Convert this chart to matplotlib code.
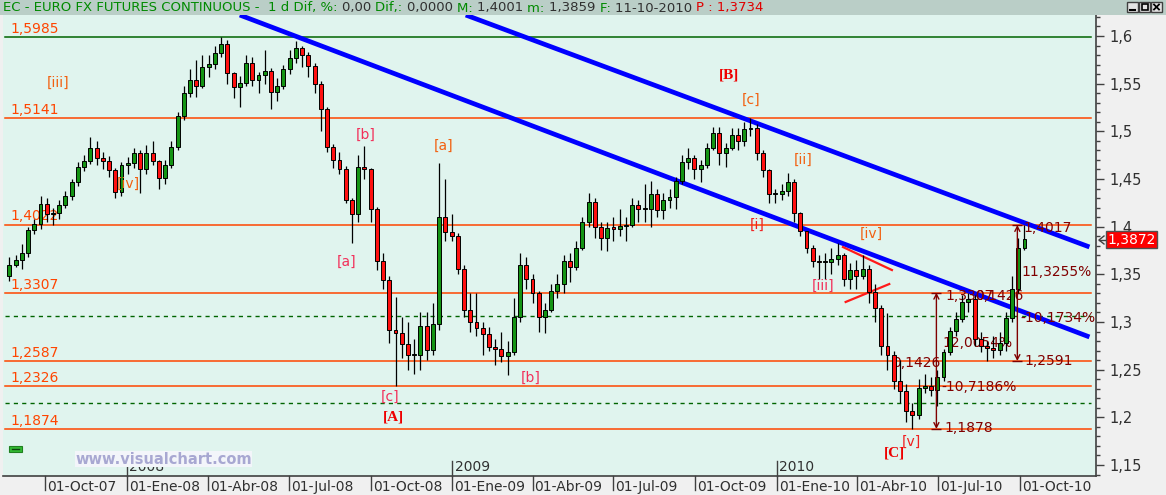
import numpy as np
import pandas as pd
import matplotlib
matplotlib.use('Agg')
import matplotlib.pyplot as plt
import matplotlib.dates as mdates
from matplotlib import font_manager
from matplotlib.patches import Rectangle
from matplotlib.ticker import MultipleLocator, FuncFormatter
from matplotlib.transforms import blended_transform_factory

names = {f.name for f in font_manager.fontManager.ttflist}
NARROW = 'Liberation Sans Narrow' if 'Liberation Sans Narrow' in names else 'DejaVu Sans'

# ---------------- data (weekly candles) ----------------
week_start = '2007-08-22'
opens = [
    1.348, 1.360, 1.365, 1.372, 1.397, 1.403, 1.424, 1.413, 1.414, 1.423,
    1.432, 1.447, 1.463, 1.469, 1.483, 1.472, 1.469, 1.459, 1.436, 1.465,
    1.467, 1.477, 1.460, 1.477, 1.469, 1.451, 1.465, 1.484, 1.516, 1.540,
    1.554, 1.548, 1.568, 1.571, 1.582, 1.592, 1.561, 1.546, 1.551, 1.572,
    1.554, 1.559, 1.563, 1.541, 1.548, 1.565, 1.577, 1.587, 1.580, 1.569,
    1.550, 1.523, 1.484, 1.470, 1.461, 1.428, 1.413, 1.463, 1.461, 1.418,
    1.364, 1.344, 1.292, 1.288, 1.277, 1.265, 1.265, 1.296, 1.271, 1.298,
    1.410, 1.394, 1.390, 1.356, 1.313, 1.300, 1.294, 1.287, 1.274, 1.272,
    1.264, 1.268, 1.305, 1.360, 1.345, 1.330, 1.305, 1.313, 1.332, 1.340,
    1.364, 1.358, 1.378, 1.405, 1.426, 1.400, 1.388, 1.399, 1.398, 1.401,
    1.402, 1.423, 1.418, 1.418, 1.434, 1.417, 1.428, 1.431, 1.448, 1.468,
    1.472, 1.461, 1.465, 1.483, 1.498, 1.477, 1.483, 1.496, 1.490, 1.502,
    1.503, 1.477, 1.459, 1.434, 1.434, 1.437, 1.447, 1.414, 1.395, 1.378,
    1.364, 1.363, 1.363, 1.366, 1.370, 1.345, 1.355, 1.348, 1.356, 1.331,
    1.315, 1.275, 1.265, 1.238, 1.228, 1.207, 1.202, 1.231, 1.233, 1.229,
    1.242, 1.268, 1.291, 1.303, 1.321, 1.324, 1.282, 1.275, 1.273, 1.271,
    1.278, 1.304, 1.335, 1.378]
highs = [
    1.368, 1.370, 1.382, 1.400, 1.408, 1.432, 1.430, 1.420, 1.428, 1.437,
    1.450, 1.468, 1.475, 1.494, 1.490, 1.478, 1.474, 1.462, 1.468, 1.473,
    1.483, 1.480, 1.486, 1.490, 1.470, 1.470, 1.490, 1.520, 1.548, 1.565,
    1.575, 1.580, 1.580, 1.590, 1.5985, 1.596, 1.562, 1.558, 1.580, 1.578,
    1.562, 1.585, 1.566, 1.556, 1.570, 1.585, 1.595, 1.590, 1.583, 1.572,
    1.553, 1.526, 1.487, 1.478, 1.464, 1.430, 1.475, 1.485, 1.462, 1.421,
    1.372, 1.348, 1.326, 1.305, 1.300, 1.282, 1.310, 1.310, 1.320, 1.467,
    1.450, 1.413, 1.393, 1.360, 1.330, 1.330, 1.300, 1.295, 1.282, 1.290,
    1.280, 1.325, 1.372, 1.368, 1.350, 1.333, 1.320, 1.340, 1.350, 1.370,
    1.372, 1.385, 1.410, 1.435, 1.430, 1.405, 1.405, 1.410, 1.418, 1.410,
    1.430, 1.428, 1.445, 1.448, 1.440, 1.435, 1.440, 1.452, 1.475, 1.482,
    1.475, 1.470, 1.488, 1.505, 1.505, 1.488, 1.503, 1.503, 1.510, 1.5141,
    1.508, 1.480, 1.460, 1.440, 1.445, 1.456, 1.450, 1.415, 1.395, 1.381,
    1.370, 1.372, 1.378, 1.383, 1.372, 1.362, 1.365, 1.370, 1.360, 1.340,
    1.318, 1.309, 1.270, 1.260, 1.235, 1.215, 1.240, 1.245, 1.242, 1.250,
    1.272, 1.295, 1.310, 1.328, 1.3307, 1.328, 1.290, 1.280, 1.285, 1.290,
    1.310, 1.348, 1.388, 1.4017]
lows = [
    1.343, 1.358, 1.356, 1.368, 1.392, 1.398, 1.405, 1.402, 1.408, 1.420,
    1.428, 1.443, 1.458, 1.466, 1.465, 1.460, 1.452, 1.430, 1.432, 1.455,
    1.462, 1.435, 1.455, 1.465, 1.440, 1.445, 1.462, 1.480, 1.512, 1.536,
    1.536, 1.545, 1.557, 1.565, 1.578, 1.550, 1.535, 1.525, 1.548, 1.548,
    1.540, 1.550, 1.523, 1.532, 1.544, 1.560, 1.572, 1.568, 1.557, 1.540,
    1.500, 1.478, 1.462, 1.455, 1.425, 1.383, 1.405, 1.450, 1.405, 1.355,
    1.335, 1.278, 1.233, 1.262, 1.250, 1.245, 1.250, 1.260, 1.265, 1.292,
    1.385, 1.385, 1.350, 1.305, 1.290, 1.285, 1.265, 1.270, 1.255, 1.258,
    1.244, 1.265, 1.300, 1.335, 1.320, 1.290, 1.288, 1.310, 1.325, 1.330,
    1.342, 1.355, 1.375, 1.400, 1.388, 1.375, 1.374, 1.385, 1.390, 1.385,
    1.400, 1.405, 1.405, 1.400, 1.410, 1.408, 1.420, 1.418, 1.445, 1.460,
    1.450, 1.447, 1.462, 1.480, 1.465, 1.463, 1.480, 1.480, 1.485, 1.495,
    1.470, 1.452, 1.425, 1.425, 1.428, 1.432, 1.405, 1.390, 1.372, 1.358,
    1.345, 1.345, 1.350, 1.360, 1.338, 1.335, 1.335, 1.345, 1.320, 1.300,
    1.265, 1.250, 1.230, 1.215, 1.195, 1.1878, 1.198, 1.225, 1.222, 1.212,
    1.238, 1.265, 1.285, 1.300, 1.310, 1.275, 1.268, 1.2591, 1.262, 1.265,
    1.270, 1.300, 1.330, 1.375]
closes = [
    1.360, 1.365, 1.372, 1.397, 1.403, 1.424, 1.413, 1.414, 1.423, 1.432,
    1.447, 1.463, 1.469, 1.483, 1.472, 1.469, 1.459, 1.436, 1.465, 1.467,
    1.477, 1.460, 1.477, 1.469, 1.451, 1.465, 1.484, 1.516, 1.540, 1.554,
    1.548, 1.568, 1.571, 1.582, 1.592, 1.561, 1.546, 1.551, 1.572, 1.554,
    1.559, 1.563, 1.541, 1.548, 1.565, 1.577, 1.587, 1.580, 1.569, 1.550,
    1.523, 1.484, 1.470, 1.461, 1.428, 1.413, 1.463, 1.461, 1.418, 1.364,
    1.344, 1.292, 1.288, 1.277, 1.265, 1.265, 1.296, 1.271, 1.298, 1.410,
    1.394, 1.390, 1.356, 1.313, 1.300, 1.294, 1.287, 1.274, 1.272, 1.264,
    1.268, 1.305, 1.360, 1.345, 1.330, 1.305, 1.313, 1.332, 1.340, 1.364,
    1.358, 1.378, 1.405, 1.426, 1.400, 1.388, 1.399, 1.398, 1.401, 1.402,
    1.423, 1.418, 1.418, 1.434, 1.417, 1.428, 1.431, 1.448, 1.468, 1.472,
    1.461, 1.465, 1.483, 1.498, 1.477, 1.483, 1.496, 1.490, 1.502, 1.503,
    1.477, 1.459, 1.434, 1.434, 1.437, 1.447, 1.414, 1.395, 1.378, 1.364,
    1.363, 1.363, 1.366, 1.370, 1.345, 1.355, 1.348, 1.356, 1.331, 1.315,
    1.275, 1.265, 1.238, 1.228, 1.207, 1.202, 1.231, 1.233, 1.229, 1.242,
    1.268, 1.291, 1.303, 1.321, 1.324, 1.282, 1.275, 1.273, 1.271, 1.278,
    1.304, 1.335, 1.378, 1.387]

levels = [1.5141, 1.4022, 1.3307, 1.2587, 1.2326, 1.1874]
level_labels = ['1,5141', '1,4022', '1,3307', '1,2587', '1,2326', '1,1874']
top_level = 1.5985
top_label = '1,5985'
dashed_levels = [1.3063, 1.2150]

channel_lines = [(('2008-05-07', 1.622), ('2010-12-18', 1.2843)),
                 (('2009-01-16', 1.622), ('2010-12-18', 1.3787))]
triangle_lines = [(('2010-03-16', 1.3786), ('2010-05-10', 1.3545)),
                  (('2010-03-19', 1.3210), ('2010-05-07', 1.3398))]

measure_arrows = [('2010-06-29', 1.1878, 1.3307), ('2010-09-28', 1.2591, 1.4017)]
measure_texts = [
    ('1,1878', '2010-07-08', 1.1888), ('-10,7186%', '2010-07-05', 1.2318),
    ('12,0054%', '2010-07-06', 1.2780), ('0,1426', '2010-05-10', 1.2570),
    ('1,3307', '2010-07-09', 1.3273), ('0,1426', '2010-08-11', 1.3273),
    ('1,4017', '2010-10-05', 1.3986), ('11,3255%', '2010-10-03', 1.3524),
    ('-10,1734%', '2010-10-01', 1.3042), ('1,2591', '2010-10-06', 1.2591)]

ORANGE, PINK, RED = '#f26010', '#f2305a', '#f02020'
wave_labels = [
    ('[iii]', '2007-10-16', 1.5507, ORANGE), ('[iv]', '2008-01-03', 1.4447, ORANGE),
    ('[b]', '2008-09-26', 1.4961, PINK), ('[a]', '2008-09-04', 1.3629, PINK),
    ('[a]', '2008-12-22', 1.4846, ORANGE), ('[c]', '2008-10-23', 1.2213, PINK),
    ('[b]', '2009-03-30', 1.2412, PINK), ('[c]', '2009-12-03', 1.5329, ORANGE),
    ('[ii]', '2010-01-30', 1.4699, ORANGE), ('[i]', '2009-12-10', 1.4017, RED),
    ('[iv]', '2010-04-17', 1.3923, ORANGE), ('[iii]', '2010-02-22', 1.3377, PINK),
    ('[v]', '2010-06-01', 1.1741, RED)]
big_labels = [('[A]', '2008-10-27', 1.2003), ('[B]', '2009-11-08', 1.5591),
              ('[C]', '2010-05-13', 1.1626)]

quarter_dates = ['2007-10-01', '2008-01-01', '2008-04-01', '2008-07-01', '2008-10-01',
                 '2009-01-01', '2009-04-01', '2009-07-01', '2009-10-01', '2010-01-01',
                 '2010-04-01', '2010-07-01', '2010-10-01']
quarter_labels = ['01-Oct-07', '01-Ene-08', '01-Abr-08', '01-Jul-08', '01-Oct-08',
                  '01-Ene-09', '01-Abr-09', '01-Jul-09', '01-Oct-09', '01-Ene-10',
                  '01-Abr-10', '01-Jul-10', '01-Oct-10']
year_dates = ['2008-01-01', '2009-01-01', '2010-01-01']
year_labels = ['2008', '2009', '2010']
last_price = 1.3872
last_label = '1,3872'

# ---------------- drawing ----------------
def d(s):
    return mdates.date2num(pd.Timestamp(s))

W, H = 1166, 495
fig = plt.figure(figsize=(W / 100, H / 100), dpi=100, facecolor='#f0f0f0')
ax = fig.add_axes([3 / W, (H - 476) / H, 1093 / W, 461 / H])
ax.set_facecolor('#e0f4ee')
ax.set_xlim(d('2007-10-01') - 47.2, d('2007-10-01') + 1181.4)
ax.set_ylim(1.13844, 1.62203)

xy_axes = blended_transform_factory(ax.transAxes, ax.transData)
x_data = blended_transform_factory(ax.transData, ax.transAxes)

# horizontal levels
for lv, lb in zip(levels, level_labels):
    ax.axhline(lv, xmin=0.002, xmax=0.995, color='#ff4500', lw=1.1, zorder=1)
    ax.text(0.0064, lv + 0.0012, lb, transform=xy_axes, color='#ff4500',
            fontsize=10, family=NARROW, va='bottom', ha='left', zorder=2)
ax.axhline(top_level, xmin=0.002, xmax=0.995, color='#006400', lw=1.1, zorder=1)
ax.text(0.0064, top_level + 0.0012, top_label, transform=xy_axes, color='#ff4500',
        fontsize=10, family=NARROW, va='bottom', ha='left', zorder=2)
for lv in dashed_levels:
    ax.axhline(lv, xmin=0.002, xmax=0.995, color='#006400', lw=1.0,
               dashes=(3, 3), zorder=1)

# blue channel lines
for (d0, p0), (d1, p1) in channel_lines:
    ax.plot([d(d0), d(d1)], [p0, p1], color='#0000ff', lw=3.4, zorder=2,
            solid_capstyle='butt')
for (d0, p0), (d1, p1) in triangle_lines:
    ax.plot([d(d0), d(d1)], [p0, p1], color='#ff1a1a', lw=1.6, zorder=2)

# measurement texts (behind candles)
for s, ds, p in measure_texts:
    ax.text(d(ds), p, s, color='#800000', fontsize=10, family=NARROW,
            va='center', ha='left', zorder=2.5)

# candles
xs = np.array([d(t) for t in pd.date_range(week_start, periods=len(closes), freq='7D')])
o = np.array(opens); h = np.array(highs); l = np.array(lows); c = np.array(closes)
up = c >= o
ax.vlines(xs, l, h, color='black', lw=0.9, zorder=3)
body_lo = np.minimum(o, c)
body_h = np.maximum(np.abs(c - o), 0.0012)
ax.bar(xs[up], body_h[up], bottom=body_lo[up], width=4.4, color='#149414',
       edgecolor='black', linewidth=0.7, zorder=3.5)
ax.bar(xs[~up], body_h[~up], bottom=body_lo[~up], width=4.4, color='#ff1010',
       edgecolor='black', linewidth=0.7, zorder=3.5)

# measurement arrows
for ds, p0, p1 in measure_arrows:
    ax.annotate('', xy=(d(ds), p1), xytext=(d(ds), p0),
                arrowprops=dict(arrowstyle='<->,head_length=0.35,head_width=0.18',
                                color='#800000', lw=1.0, shrinkA=0, shrinkB=0),
                zorder=4)
    ax.plot([d(ds), d(ds)], [p0, p1], ls='none', marker='_', ms=7,
            color='#800000', zorder=4)

# wave labels
for s, ds, p, col in wave_labels:
    ax.text(d(ds), p, s, color=col, fontsize=10, family=NARROW,
            ha='center', va='center', zorder=5)
for s, ds, p in big_labels:
    ax.text(d(ds), p, s, color='#ee0000', fontsize=11, family='Liberation Serif',
            fontweight='bold', ha='center', va='center', zorder=5)

# axes styling
for sp in ['left', 'top']:
    ax.spines[sp].set_visible(False)
for sp in ['right', 'bottom']:
    ax.spines[sp].set_color('#404040')
    ax.spines[sp].set_linewidth(1.2)
ax.yaxis.tick_right()
ax.set_yticks(np.arange(1.15, 1.6001, 0.05))
ax.yaxis.set_minor_locator(MultipleLocator(0.01))
ax.yaxis.set_major_formatter(FuncFormatter(
    lambda v, pos: ('%.2f' % v).rstrip('0').replace('.', ',')))
ax.tick_params(axis='y', which='major', length=6, width=1, color='#404040',
               labelcolor='#303030', labelsize=10.5, pad=4)
ax.tick_params(axis='y', which='minor', length=3, width=1, color='#404040')
for lab in ax.get_yticklabels():
    lab.set_family(NARROW)
ax.set_xticks([])

# x axis quarter ticks
for ds, lb in zip(quarter_dates, quarter_labels):
    ax.plot([d(ds), d(ds)], [0, -0.03], transform=x_data, color='#404040',
            lw=1, clip_on=False)
    ax.annotate(lb, xy=(d(ds), -0.023), xycoords=x_data, xytext=(1.5, 0),
                textcoords='offset points', va='center', ha='left',
                fontsize=10, family=NARROW, color='#303030', annotation_clip=False)
for ds, lb in zip(year_dates, year_labels):
    ax.plot([d(ds), d(ds)], [0, 0.033], transform=x_data, color='#404040',
            lw=1, clip_on=False)
    ax.annotate(lb, xy=(d(ds), 0.020), xycoords=x_data, xytext=(1.5, 0),
                textcoords='offset points', va='center', ha='left',
                fontsize=10, family=NARROW, color='#303030')

# last price marker
ax.text(1.0105, last_price - 0.001, last_label, transform=xy_axes, ha='left',
        va='center', color='white', fontsize=10, family=NARROW, clip_on=False,
        zorder=6,
        bbox=dict(boxstyle='square,pad=0.1', fc='#ff0000', ec='#505050', lw=1))

# overlay for chrome
ov = fig.add_axes([0, 0, 1, 1], zorder=10)
ov.set_xlim(0, W); ov.set_ylim(H, 0); ov.axis('off'); ov.patch.set_alpha(0)
ov.add_patch(Rectangle((0, 0), W, 15, facecolor='#bacec7', edgecolor='none'))
ov.plot([1104, 1099, 1104], [236, 240, 244], color='#404040', lw=1)
ov.plot([1099, 1105], [240, 240], color='#404040', lw=1)
# window buttons
for bx in [1127, 1139, 1151]:
    ov.add_patch(Rectangle((bx, 2), 11, 10, facecolor='#e4e4e4', edgecolor='#404040', lw=1))
ov.plot([1130, 1135], [10, 10], color='black', lw=1.5)
ov.add_patch(Rectangle((1141.5, 4), 6, 6, facecolor='none', edgecolor='black', lw=1.2))
ov.plot([1154, 1159], [4.5, 9.5], color='black', lw=1.3)
ov.plot([1154, 1159], [9.5, 4.5], color='black', lw=1.3)
# small green icon
ov.add_patch(Rectangle((9, 446), 13, 6, facecolor='#33bb33', edgecolor='#208020', lw=0.8))
ov.plot([12, 19], [449, 449], color='#104010', lw=1)
# watermark
ov.text(75, 459, 'www.visualchart.com', fontsize=10.5, fontweight='bold',
        family='DejaVu Sans', color='#a8a8d2', va='center', ha='left',
        bbox=dict(facecolor='#f3f5fa', edgecolor='none', pad=0.3))

# title bar
GREEN, GRAY, TRED = '#008a00', '#303030', '#e00000'
segs = [('EC - EURO FX FUTURES CONTINUOUS -  1 d Dif, %: ', GREEN), ('0,00 ', GRAY),
        ('Dif,: ', GREEN), ('0,0000 ', GRAY), ('M: ', GREEN), ('1,4001 ', GRAY),
        ('m: ', GREEN), ('1,3859 ', GRAY), ('F: ', GREEN), ('11-10-2010 ', GRAY),
        ('P : 1,3734', TRED)]
prev = ov.text(3, 8, segs[0][0], color=segs[0][1], fontsize=9.5, family=NARROW,
               va='center', ha='left')
for s, col in segs[1:]:
    prev = ov.annotate(s, xy=(1, 0.5), xycoords=prev, va='center', ha='left',
                       color=col, fontsize=9.5, family=NARROW)

fig.savefig('out.png', dpi=100, facecolor=fig.get_facecolor())
